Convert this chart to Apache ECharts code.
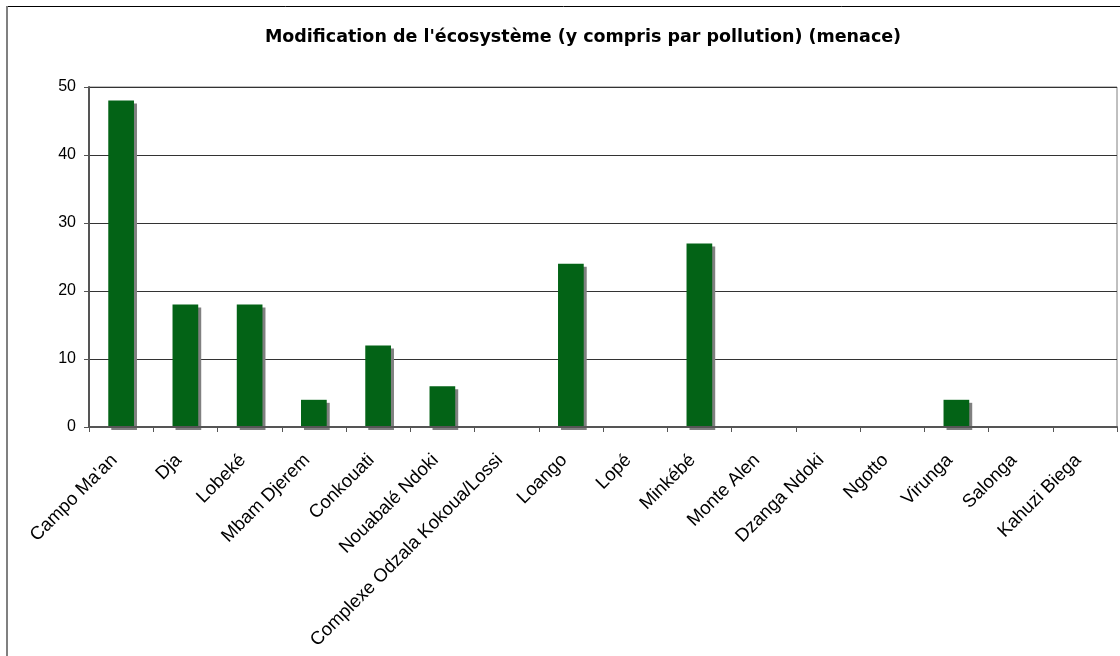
<!DOCTYPE html>
<html>
<head>
<meta charset="utf-8">
<script src="https://cdn.jsdelivr.net/npm/echarts@6/dist/echarts.min.js"></script>
<style>html,body{margin:0;padding:0;background:#fff}#c{width:1120px;height:656px}</style>
</head>
<body>
<div id="c"></div>
<script>
const titleText = "Modification de l'écosystème (y compris par pollution) (menace)";
const categories = ["Campo Ma'an","Dja","Lobeké","Mbam Djerem","Conkouati","Nouabalé Ndoki","Complexe Odzala Kokoua/Lossi","Loango","Lopé","Minkébé","Monte Alen","Dzanga Ndoki","Ngotto","Virunga","Salonga","Kahuzi Biega"];
const values = [48,18,18,4,12,6,0,24,0,27,0,0,0,4,0,0];
const yTicks = {min:0,max:50,interval:10};

const chart = echarts.init(document.getElementById('c'), null, {renderer:'canvas'});
chart.setOption({
  animation:false,
  backgroundColor:'#fff',
  title:{text:titleText,left:578,textAlign:'center',top:23,textStyle:{fontFamily:'DejaVu Sans',fontSize:17.5,fontWeight:'bold',color:'#000'}},
  graphic:[
    {type:'line',shape:{x1:7,y1:6.5,x2:1120,y2:6.5},style:{stroke:'#000',lineWidth:1}},
    {type:'line',shape:{x1:7,y1:6,x2:7,y2:656},style:{stroke:'#808080',lineWidth:2}}
  ],
  grid:{left:89,right:3,top:87,bottom:229,show:true,borderColor:'#808080',borderWidth:1},
  xAxis:{type:'category',data:categories,z:5,
    axisLine:{lineStyle:{color:'#555',width:2}},
    axisTick:{show:true,alignWithLabel:false,length:5,lineStyle:{color:'#555'}},
    axisLabel:{rotate:45,interval:0,fontFamily:'Liberation Sans',fontSize:18.5,color:'#000',margin:37,verticalAlign:'bottom'}},
  yAxis:{type:'value',min:yTicks.min,max:yTicks.max,interval:yTicks.interval,
    axisLine:{show:true,lineStyle:{color:'#555',width:2}},
    axisTick:{show:true,length:5,lineStyle:{color:'#555'}},
    splitLine:{lineStyle:{color:'#333',width:1}},
    axisLabel:{fontFamily:'Liberation Sans',fontSize:16,color:'#000',margin:13}},
  series:[{type:'bar',data:values,barWidth:'40%',
    itemStyle:{color:'#036316',shadowColor:'#808080',shadowOffsetX:3,shadowOffsetY:3,shadowBlur:0}}]
});
</script>
</body>
</html>
